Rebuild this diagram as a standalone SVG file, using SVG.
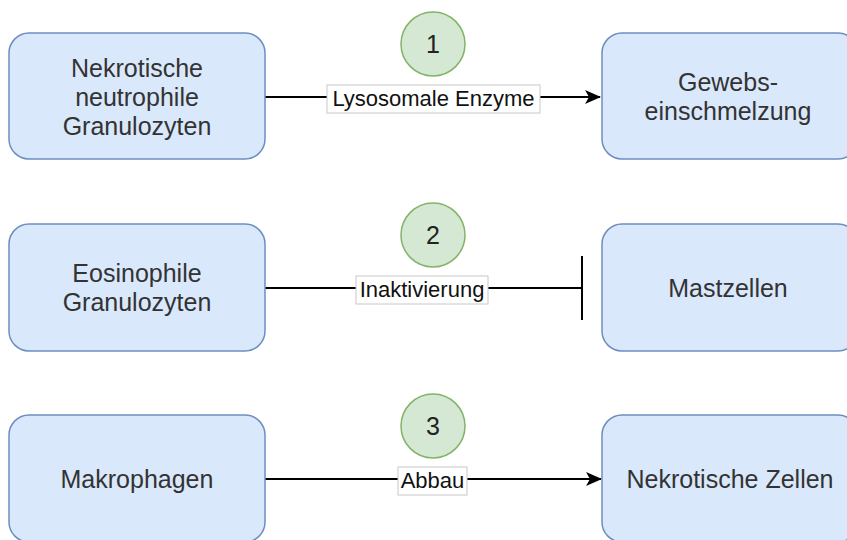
<svg xmlns="http://www.w3.org/2000/svg" width="847" height="540" viewBox="0 0 847 540">
  <style>
    .node { fill: #dae8fc; stroke: #6c8ebf; stroke-width: 1.5; }
    .step { fill: #d5e8d4; stroke: #82b366; stroke-width: 1.5; }
    .ntext { font-family: "Liberation Sans", Arial, sans-serif; font-size: 25px; fill: #333333; text-anchor: middle; }
    .stext { font-family: "Liberation Sans", Arial, sans-serif; font-size: 25px; fill: #222222; text-anchor: middle; }
    .edge { stroke: #000000; stroke-width: 2; fill: none; }
    .lbox { fill: #ffffff; stroke: #c8c8c8; stroke-width: 1; }
    .ltext { font-family: "Liberation Sans", Arial, sans-serif; font-size: 22px; fill: #111111; text-anchor: middle; }
  </style>
  <defs>
    <marker id="arrow" markerWidth="16" markerHeight="14" refX="15" refY="7" orient="auto" markerUnits="userSpaceOnUse" viewBox="0 0 16 14">
      <path d="M0,0 L16,7 L0,14 L4,7 Z" fill="#000000"/>
    </marker>
  </defs>

  <g id="connectors">
    <line class="edge" x1="265" y1="97" x2="600" y2="97" marker-end="url(#arrow)"/>
    <rect class="lbox" x="327" y="85" width="213" height="28"/>
    <text class="ltext" x="433.5" y="106">Lysosomale Enzyme</text>

    <line class="edge" x1="265" y1="288" x2="582" y2="288"/>
    <line class="edge" x1="582" y1="256" x2="582" y2="320"/>
    <rect class="lbox" x="356" y="276" width="132" height="28"/>
    <text class="ltext" x="422" y="297">Inaktivierung</text>

    <line class="edge" x1="265" y1="479" x2="601" y2="479" marker-end="url(#arrow)"/>
    <rect class="lbox" x="398" y="467" width="69" height="28"/>
    <text class="ltext" x="432.5" y="488">Abbau</text>
  </g>

  <g id="node-nekrotische-neutrophile">
    <rect class="node" x="9" y="33" width="256" height="126" rx="20"/>
    <text class="ntext" x="137" y="77">Nekrotische</text>
    <text class="ntext" x="137" y="106">neutrophile</text>
    <text class="ntext" x="137" y="135">Granulozyten</text>
  </g>
  <g id="node-gewebseinschmelzung">
    <rect class="node" x="602" y="33" width="256" height="126" rx="20"/>
    <text class="ntext" x="728" y="91">Gewebs-</text>
    <text class="ntext" x="728" y="120">einschmelzung</text>
  </g>
  <g id="node-eosinophile">
    <rect class="node" x="9" y="224" width="256" height="127" rx="20"/>
    <text class="ntext" x="137" y="282">Eosinophile</text>
    <text class="ntext" x="137" y="311">Granulozyten</text>
  </g>
  <g id="node-mastzellen">
    <rect class="node" x="602" y="224" width="256" height="127" rx="20"/>
    <text class="ntext" x="728" y="297">Mastzellen</text>
  </g>
  <g id="node-makrophagen">
    <rect class="node" x="9" y="415" width="256" height="127" rx="20"/>
    <text class="ntext" x="137" y="488">Makrophagen</text>
  </g>
  <g id="node-nekrotische-zellen">
    <rect class="node" x="602" y="415" width="256" height="127" rx="20"/>
    <text class="ntext" x="730" y="488">Nekrotische Zellen</text>
  </g>

  <g id="step-1">
    <circle class="step" cx="433" cy="44" r="32"/>
    <text class="stext" x="433" y="53">1</text>
  </g>
  <g id="step-2">
    <circle class="step" cx="433" cy="235" r="32"/>
    <text class="stext" x="433" y="244">2</text>
  </g>
  <g id="step-3">
    <circle class="step" cx="433" cy="426" r="32"/>
    <text class="stext" x="433" y="435">3</text>
  </g>
</svg>
